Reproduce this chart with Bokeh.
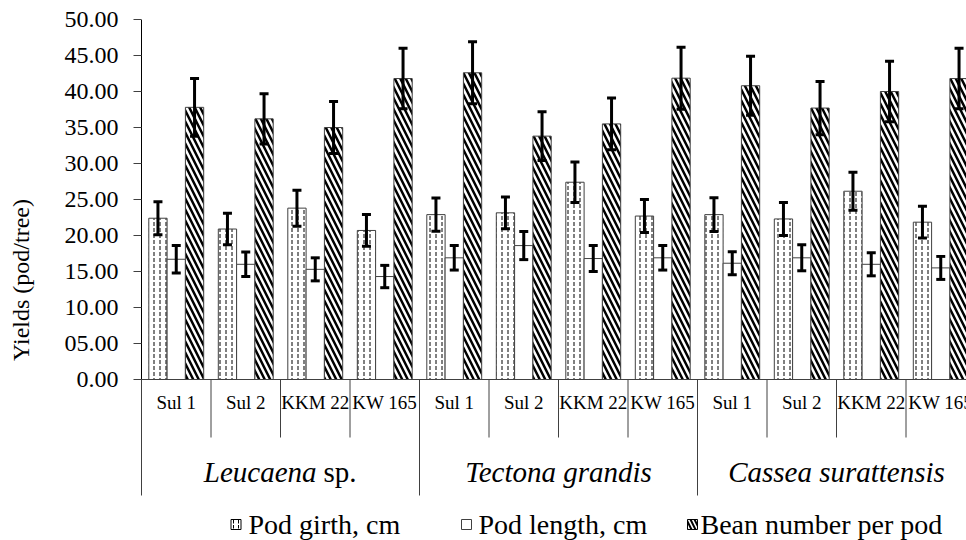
import numpy as np
from bokeh.plotting import figure
from bokeh.models import ColumnDataSource, Whisker, TeeHead, FixedTicker, Range1d
from bokeh.core.properties import value
from bokeh.embed import file_html
from bokeh.resources import INLINE

# ---------------- data ----------------
species = ["Leucaena", "Tectona grandis", "Cassea surattensis"]
cultivars = ["Sul 1", "Sul 2", "KKM 22", "KW 165"]

girth = [22.4, 20.9, 23.8, 20.7, 22.9, 23.15, 27.4, 22.7, 22.9, 22.3, 26.15, 21.85]
girth_err = [2.3, 2.2, 2.5, 2.2, 2.3, 2.2, 2.8, 2.3, 2.35, 2.3, 2.65, 2.2]
length = [16.7, 16.0, 15.3, 14.3, 16.9, 18.6, 16.8, 16.9, 16.15, 16.9, 16.0, 15.5]
length_err = [1.9, 1.7, 1.6, 1.55, 1.7, 1.95, 1.8, 1.7, 1.6, 1.8, 1.6, 1.6]
bean = [37.8, 36.2, 35.0, 41.8, 42.6, 33.8, 35.5, 41.85, 40.8, 37.7, 40.0, 41.8]
bean_err = [4.0, 3.5, 3.6, 4.2, 4.3, 3.4, 3.6, 4.3, 4.1, 3.7, 4.2, 4.2]

series_names = ["Pod girth, cm", "Pod length, cm", "Bean number per pod"]
y_ticks = [0, 5, 10, 15, 20, 25, 30, 35, 40, 45, 50]
y_tick_labels = ["0.00", "05.00", "10.00", "15.00", "20.00", "25.00",
                 "30.00", "35.00", "40.00", "45.00", "50.00"]
y_title = "Yields (pod/tree)"

# ---------------- layout (pixels) ----------------
W, H = 966, 540
PX_Y = 7.2            # pixels per y unit
PX_X = 69.5           # pixels per category group
ZERO_Y = 379
X0 = 141
FRAME_LEFT = 140
TOP = 19

def dx(px):
    return (px - X0) / PX_X

def dy(py):
    return (ZERO_Y - py) / PX_Y

x_start = dx(FRAME_LEFT)
x_end = dx(W)
y_top = y_ticks[-1]
y_bottom = y_top - (H - TOP) / PX_Y

p = figure(width=W, height=H, output_backend="svg", toolbar_location=None,
           x_axis_type=None, x_range=Range1d(x_start, x_end),
           y_range=Range1d(y_bottom, y_top),
           min_border_left=FRAME_LEFT, min_border_top=TOP,
           min_border_right=0, min_border_bottom=0)
p.outline_line_color = None
p.grid.visible = False
p.background_fill_color = "white"

FONT = "'Liberation Serif', 'Times New Roman', serif"
AX = "#404040"

# y axis
yax = p.yaxis[0]
yax.bounds = (y_ticks[0], y_ticks[-1])
yax.ticker = FixedTicker(ticks=y_ticks)
yax.major_label_overrides = {t: l for t, l in zip(y_ticks, y_tick_labels)}
yax.axis_line_color = None
yax.major_tick_out = 7
yax.major_tick_in = 1
yax.major_tick_line_color = AX
yax.minor_tick_line_color = None
yax.major_label_standoff = 15
yax.major_label_text_font = FONT
yax.major_label_text_font_size = "24px"
yax.major_label_text_color = "black"
yax.axis_label = y_title
yax.axis_label_text_font = FONT
yax.axis_label_text_font_size = "24px"
yax.axis_label_text_font_style = "normal"
yax.axis_label_text_color = "black"
yax.axis_label_standoff = 28

# ---------------- bars ----------------
n = len(girth)
centers = np.arange(n) + 0.5
bw = 18.3 / PX_X
src = ColumnDataSource(dict(
    xg=centers - bw, xl=centers, xb=centers + bw,
    girth=girth, length=length, bean=bean,
    g_up=np.array(girth) + np.array(girth_err), g_lo=np.array(girth) - np.array(girth_err),
    l_up=np.array(length) + np.array(length_err), l_lo=np.array(length) - np.array(length_err),
    b_up=np.array(bean) + np.array(bean_err), b_lo=np.array(bean) - np.array(bean_err),
))

p.vbar(x="xg", top="girth", bottom=0, width=bw, source=src, fill_color="white",
       line_color=AX, line_width=1, hatch_pattern="vertical_dash", hatch_color="black",
       hatch_scale=6, hatch_weight=1)
p.vbar(x="xl", top="length", bottom=0, width=bw, source=src, fill_color="white",
       line_color=AX, line_width=1)
p.vbar(x="xb", top="bean", bottom=0, width=bw, source=src, fill_color="white",
       line_color=AX, line_width=1, hatch_pattern="left_diagonal_line", hatch_color="black",
       hatch_scale=11, hatch_weight=2.5)

for base, up, lo in [("xg", "g_up", "g_lo"), ("xl", "l_up", "l_lo"), ("xb", "b_up", "b_lo")]:
    w = Whisker(base=base, upper=up, lower=lo, source=src, line_color="black", line_width=3,
                level="annotation",
                upper_head=TeeHead(size=9, line_width=3, line_color="black"),
                lower_head=TeeHead(size=9, line_width=3, line_color="black"))
    p.add_layout(w)

# ---------------- category axis (drawn) ----------------
n_sp = len(species)
n_cv = len(cultivars)
short_y = dy(437)
long_y = dy(495)
p.segment(x0=[0], y0=[0], x1=[x_end], y1=[0], line_color=AX, line_width=1)
p.segment(x0=[0], y0=[0], x1=[0], y1=[y_top], line_color="black", line_width=1)
bounds = np.arange(n + 1)
is_long = bounds % n_cv == 0
p.segment(x0=bounds[~is_long], y0=0, x1=bounds[~is_long], y1=short_y, line_color=AX, line_width=1)
p.segment(x0=bounds[is_long], y0=0, x1=bounds[is_long], y1=long_y, line_color=AX, line_width=1)

p.text(x=centers, y=dy(402), text=cultivars * n_sp, text_font=value(FONT),
       text_font_size="19px", text_align="center", text_baseline="middle", text_color="black")

sp_centers = np.arange(n_sp) * n_cv + n_cv / 2
sp_y = dy(471)
SP_FS = 29
p.text(x=[sp_centers[0]], y=[sp_y], text=[species[0]], text_font=value(FONT),
       text_font_style="italic", text_font_size=f"{SP_FS}px", text_align="right",
       text_baseline="middle", x_offset=36, text_color="black")
p.text(x=[sp_centers[0]], y=[sp_y], text=["sp."], text_font=value(FONT),
       text_font_size=f"{SP_FS}px", text_align="left", text_baseline="middle",
       x_offset=43, text_color="black")
p.text(x=sp_centers[1:], y=sp_y, text=species[1:], text_font=value(FONT),
       text_font_style="italic", text_font_size=f"{SP_FS}px", text_align="center",
       text_baseline="middle", text_color="black")

# ---------------- legend (drawn) ----------------
leg_y = dy(524)
mk_x = [dx(235.5), dx(466), dx(692)]
tx_x = [dx(248), dx(478), dx(700)]
p.rect(x=[mk_x[0]], y=[leg_y], width=10, height=10, width_units="screen", height_units="screen",
       fill_color="white", line_color="black", line_width=1, hatch_pattern="vertical_dash",
       hatch_color="black", hatch_scale=5, hatch_weight=1)
p.rect(x=[mk_x[1]], y=[leg_y], width=10, height=10, width_units="screen", height_units="screen",
       fill_color="white", line_color=AX, line_width=1)
p.rect(x=[mk_x[2]], y=[leg_y], width=10, height=10, width_units="screen", height_units="screen",
       fill_color="white", line_color="black", line_width=1, hatch_pattern="left_diagonal_line",
       hatch_color="black", hatch_scale=8, hatch_weight=2)
p.text(x=tx_x, y=leg_y, text=series_names, text_font=value(FONT), text_font_size="28px",
       text_align="left", text_baseline="middle", text_color="black")

open("out.html", "w").write(file_html(p, INLINE))
